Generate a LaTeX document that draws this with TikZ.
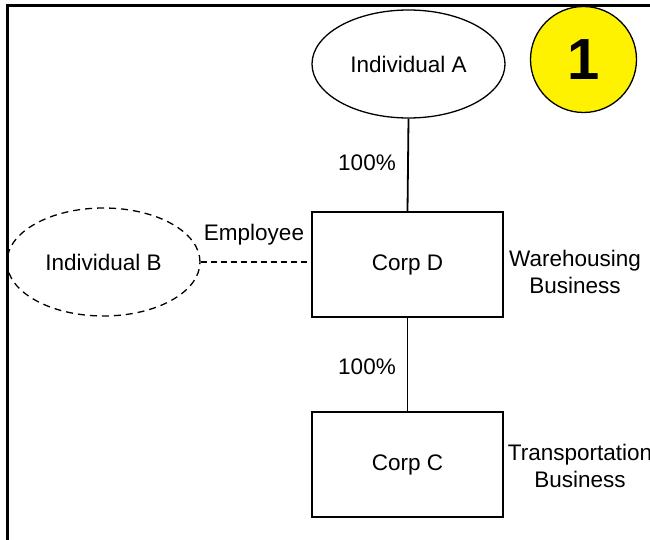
\documentclass[tikz,border=0pt]{standalone}
\usepackage{fontspec}
\setmainfont{Liberation Sans}
\usetikzlibrary{shapes.geometric}
\begin{document}
\begin{tikzpicture}[x=1pt,y=-1pt,
  txt/.style={font=\fontsize{22.5}{27}\selectfont},
  oval/.style={ellipse,draw,line width=1.3pt,minimum width=193pt,minimum height=108pt,inner sep=0pt,txt},
  corp/.style={rectangle,draw,line width=1.3pt,minimum width=191pt,minimum height=105pt,inner sep=0pt,txt},
  conn/.style={line width=1.8pt},
  lbl/.style={txt,inner sep=0pt,align=center}]
\useasboundingbox (0,0) rectangle (650,540);
\clip (0,0) rectangle (650,540);
\fill[white] (0,0) rectangle (650,540);
\node[oval] (A) at (408.5,64) {Individual A};
\node[oval,dashed,dash pattern=on 7pt off 5pt] (B) at (103.5,262) {Individual B};
\node[corp] (D) at (407.5,264.5) {Corp D};
\node[corp] (C) at (407.5,464.5) {Corp C};
\node[circle,draw,line width=1.3pt,fill=yellow,minimum size=106pt,inner sep=0pt,font=\fontsize{58}{60}\selectfont\bfseries] (N) at (583.5,59.5) {1};
\draw[conn] (A.south) -- (D.north);
\draw[conn] (D.south) -- (C.north);
\draw[line width=1.3pt,dash pattern=on 6pt off 4pt] (B.east) -- (B.east -| D.west);
\node[lbl] (p1) at (367,163) {100\%};
\node[lbl] (p2) at (367,367) {100\%};
\node[lbl] (emp) at (254,235) {Employee};
\node[lbl] (wh) at (575,272) {Warehousing\\Business};
\node[lbl] (tr) at (580,466) {Transportation\\Business};
\draw[line width=3pt] (7.5,560) -- (7.5,6) -- (680,6);
\end{tikzpicture}
\end{document}
